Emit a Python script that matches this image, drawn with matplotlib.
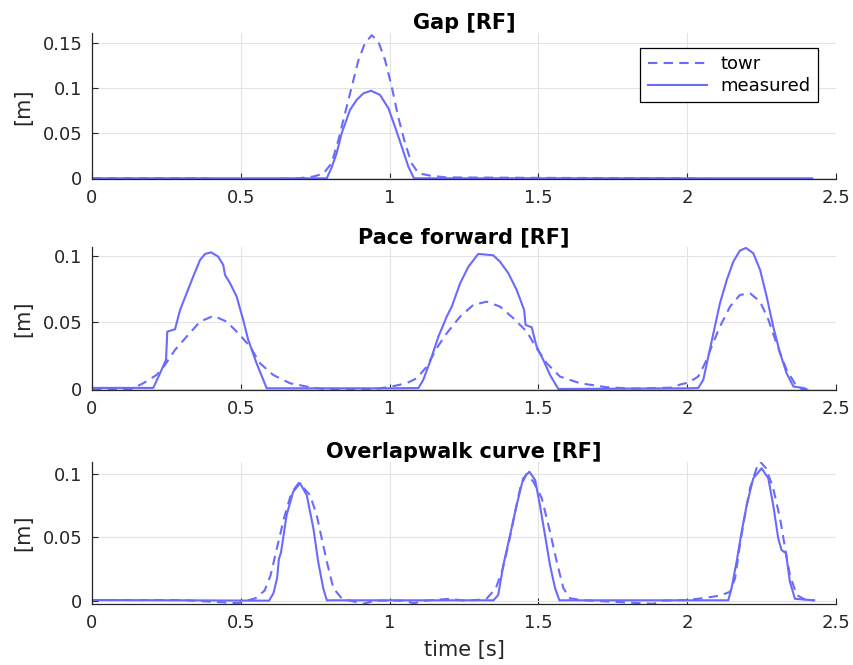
import matplotlib
matplotlib.use("Agg")
import matplotlib.pyplot as plt
from matplotlib.ticker import FuncFormatter, FixedLocator

# ---------------- data ----------------
titles = ["Gap [RF]", "Pace forward [RF]", "Overlapwalk curve [RF]"]
legend_labels = ["towr", "measured"]
x_ticks = [0, 0.5, 1, 1.5, 2, 2.5]
y_ticks_gap = [0, 0.05, 0.1, 0.15]
y_ticks_other = [0, 0.05, 0.1]

# Panel 1 : Gap
gap_meas_t = [0, 0.5, 0.789, 0.805, 0.822, 0.839, 0.867, 0.889, 0.912, 0.9375, 0.968,
              0.996, 1.018, 1.041, 1.063, 1.082, 1.5, 2.0, 2.42]
gap_meas_z = [0, 0, 0, 0.012, 0.0278, 0.05, 0.076, 0.087, 0.0944, 0.0973, 0.0926,
              0.0778, 0.0574, 0.035, 0.0129, 0, 0, 0, 0]
gap_towr_t = [0, 0.37, 0.45, 0.55, 0.68, 0.744, 0.777, 0.805, 0.828, 0.850, 0.873, 0.895,
              0.917, 0.940, 0.962, 0.985, 1.007, 1.029, 1.052, 1.074, 1.097, 1.136, 1.19,
              1.5, 2.0, 2.1, 2.3, 2.41]
gap_towr_z = [0, 0, -0.001, -0.001, -0.0005, 0.002, 0.005, 0.0167, 0.0426, 0.072, 0.102,
              0.131, 0.15, 0.159, 0.152, 0.131, 0.102, 0.068, 0.039, 0.0167, 0.0056, 0.003,
              0.001, 0.0005, 0, -0.001, -0.001, -0.0008]

# Panel 2 : Pace forward
pace_meas_t = [0, 0.206, 0.2285, 0.2487, 0.253, 0.279, 0.296, 0.318, 0.340, 0.363, 0.380,
               0.400, 0.424, 0.441, 0.447, 0.464, 0.486, 0.508, 0.525, 0.553, 0.587, 1.0,
               1.097, 1.113, 1.136, 1.164, 1.192, 1.209, 1.237, 1.265, 1.298, 1.348, 1.371,
               1.399, 1.427, 1.452, 1.457, 1.4775, 1.494, 1.5165, 1.539, 1.567, 2.0, 2.037,
               2.054, 2.071, 2.088, 2.11, 2.133, 2.155, 2.177, 2.1975, 2.222, 2.245, 2.267,
               2.289, 2.312, 2.334, 2.357, 2.39, 2.40]
pace_meas_z = [0.0008, 0.0008, 0.0117, 0.0218, 0.043, 0.0448, 0.0593, 0.0718, 0.0843,
               0.0968, 0.1013, 0.1025, 0.0993, 0.093, 0.0855, 0.0793, 0.0693, 0.0518,
               0.0368, 0.0193, 0.0005, 0.0005, 0.0007, 0.0068, 0.0205, 0.0393, 0.0543,
               0.0618, 0.0793, 0.0918, 0.1013, 0.1003, 0.0955, 0.0868, 0.0743, 0.0593,
               0.048, 0.0463, 0.0318, 0.0218, 0.0105, 0.0, 0.0005, 0.0007, 0.0068, 0.0243,
               0.0418, 0.0643, 0.0818, 0.0955, 0.1038, 0.1058, 0.1018, 0.0893, 0.0693,
               0.0468, 0.0268, 0.0118, 0.0018, 0.0008, 0.0]
pace_towr_t = [0, 0.133, 0.172, 0.217, 0.245, 0.279, 0.318, 0.363, 0.408, 0.453, 0.497,
               0.531, 0.5645, 0.609, 0.665, 0.7325, 0.78, 0.95, 1.00, 1.057, 1.091, 1.125,
               1.158, 1.192, 1.237, 1.281, 1.326, 1.371, 1.416, 1.461, 1.494, 1.528, 1.5725,
               1.64, 1.73, 1.815, 1.95, 1.976, 2.004, 2.037, 2.06, 2.082, 2.11, 2.144, 2.177,
               2.211, 2.245, 2.273, 2.30, 2.334, 2.362, 2.38, 2.40, 2.41]
pace_towr_z = [0, 0, 0.0043, 0.0105, 0.018, 0.0293, 0.0393, 0.0505, 0.0548, 0.0505,
               0.0405, 0.0318, 0.0193, 0.0105, 0.0043, 0.0013, 0.0, 0.0, 0.0015, 0.0043,
               0.008, 0.0168, 0.0305, 0.0418, 0.0543, 0.063, 0.0655, 0.0618, 0.053, 0.043,
               0.0305, 0.0193, 0.0093, 0.0043, 0.0013, 0.0003, 0.001, 0.0033, 0.0048,
               0.0093, 0.0193, 0.0318, 0.0468, 0.0618, 0.0705, 0.0718, 0.0655, 0.0518,
               0.0343, 0.0143, 0.004, 0.0005, -0.0015, -0.0005]

# Panel 3 : Overlapwalk curve
olw_meas_t = [0, 0.3, 0.595, 0.61, 0.622, 0.628, 0.635, 0.654, 0.676, 0.699, 0.7215, 0.744,
              0.760, 0.777, 0.789, 1.0, 1.349, 1.365, 1.382, 1.405, 1.427, 1.449, 1.4695,
              1.489, 1.505, 1.522, 1.539, 1.556, 1.5705, 2.0, 2.138, 2.149, 2.166, 2.183,
              2.20, 2.222, 2.250, 2.2725, 2.289, 2.306, 2.317, 2.332, 2.345, 2.362, 2.424]
olw_meas_z = [0.0005, 0.0003, 0.0, 0.006, 0.018, 0.033, 0.038, 0.0676, 0.086, 0.0927,
              0.0834, 0.057, 0.0308, 0.0098, 0.0003, 0.0003, 0.0003, 0.0045, 0.028, 0.052,
              0.0755, 0.0966, 0.1018, 0.0953, 0.0755, 0.052, 0.028, 0.0098, 0.0003, 0.0003,
              0.0003, 0.0098, 0.0308, 0.0545, 0.0755, 0.0966, 0.1045, 0.0966, 0.0755, 0.049,
              0.040, 0.0374, 0.015, 0.0015, 0.0003]
olw_towr_t = [0, 0.3, 0.49, 0.52, 0.55, 0.58, 0.60, 0.62, 0.645, 0.67, 0.695, 0.7325, 0.755,
              0.772, 0.789, 0.811, 0.839, 0.867, 0.912, 0.95, 1.05, 1.08, 1.12, 1.203, 1.25,
              1.324, 1.357, 1.38, 1.40, 1.42, 1.44, 1.46, 1.483, 1.511, 1.539, 1.5615,
              1.584, 1.606, 1.65, 1.886, 1.92, 1.998, 2.054, 2.11, 2.144, 2.161, 2.177,
              2.194, 2.211, 2.233, 2.245, 2.265, 2.289, 2.312, 2.329, 2.345, 2.368, 2.40,
              2.43]
olw_towr_z = [0.0005, 0.0005, -0.002, 0.0, 0.002, 0.008, 0.02, 0.04, 0.065, 0.085, 0.093,
              0.0834, 0.0676, 0.049, 0.0308, 0.0098, 0.0019, 0.0, -0.0025, 0.0, 0.0, -0.002,
              0.0, 0.0015, 0.0, 0.001, 0.0098, 0.025, 0.045, 0.068, 0.09, 0.1, 0.094, 0.081,
              0.0545, 0.0308, 0.0098, 0.0019, 0.0003, -0.0025, 0.0, 0.0005, 0.002, 0.004,
              0.007, 0.0177, 0.044, 0.0676, 0.0887, 0.1045, 0.1097, 0.1045, 0.0887, 0.065,
              0.0413, 0.0203, 0.0045, 0.0003, 0.0003]

# ---------------- style ----------------
plt.rcParams['font.family'] = ['DejaVu Sans']
LINE = '#6a6aff'
AX = '#262626'
GRID = '#e3e3e3'

W, H = 854, 665
fig = plt.figure(figsize=(W / 100, H / 100), dpi=100)

# axes rectangles in pixels: (left, top, right, bottom)
rects = [(92, 33.4, 836, 179.2), (92, 247.0, 836, 390.3), (92, 461.7, 836, 604.1)]
ylims = [(-0.001, 0.161), (-0.001, 0.1065), (-0.0027, 0.1097)]
yticks_list = [y_ticks_gap, y_ticks_other, y_ticks_other]
series = [(gap_towr_t, gap_towr_z, gap_meas_t, gap_meas_z),
          (pace_towr_t, pace_towr_z, pace_meas_t, pace_meas_z),
          (olw_towr_t, olw_towr_z, olw_meas_t, olw_meas_z)]

fmt = FuncFormatter(lambda v, p: ('%g' % v))

axes = []
for i in range(3):
    l, t, r, b = rects[i]
    ax = fig.add_axes([l / W, 1 - b / H, (r - l) / W, (b - t) / H])
    tt, tz, mt, mz = series[i]
    ln1, = ax.plot(tt, tz, color=LINE, lw=1.5, label=legend_labels[0])
    ln1.set_dashes([4.5, 3])
    ax.plot(mt, mz, color=LINE, lw=1.5, label=legend_labels[1])
    ax.set_xlim(0, 2.5)
    ax.set_ylim(*ylims[i])
    ax.xaxis.set_major_locator(FixedLocator(x_ticks))
    ax.yaxis.set_major_locator(FixedLocator(yticks_list[i]))
    ax.xaxis.set_major_formatter(fmt)
    ax.yaxis.set_major_formatter(fmt)
    ax.grid(True, color=GRID, lw=0.8)
    ax.set_axisbelow(True)
    for s in ['top', 'right']:
        ax.spines[s].set_visible(False)
    for s in ['left', 'bottom']:
        ax.spines[s].set_color(AX)
        ax.spines[s].set_linewidth(0.9)
    ax.tick_params(direction='in', length=4, width=0.8, color=AX, labelcolor=AX,
                   labelsize=13)
    ax.tick_params(axis='x', pad=7)
    ax.tick_params(axis='y', pad=7)
    ax.set_title(titles[i], fontsize=15, fontweight='bold', pad=3, color='black')
    ax.set_ylabel('[m]', fontsize=15, color=AX)
    axes.append(ax)

axes[2].set_xlabel('time [s]', fontsize=15, color=AX, labelpad=6)

# y-labels centred at x ~ 23 px
for ax in axes:
    pos = ax.get_position()
    ax.yaxis.set_label_coords(-(pos.x0 * W - 23) / (pos.width * W), 0.5)
    ax.yaxis.label.set_va('center')

leg = axes[0].legend(loc='upper right', bbox_to_anchor=(818 / W, 1 - 48 / H),
                     bbox_transform=fig.transFigure, borderaxespad=0, fontsize=13,
                     handlelength=3.3, handletextpad=0.75, borderpad=0.4,
                     labelspacing=0.2, fancybox=False, framealpha=1, edgecolor='black')
leg.get_frame().set_linewidth(0.9)

fig.savefig('out.png', dpi=100)
